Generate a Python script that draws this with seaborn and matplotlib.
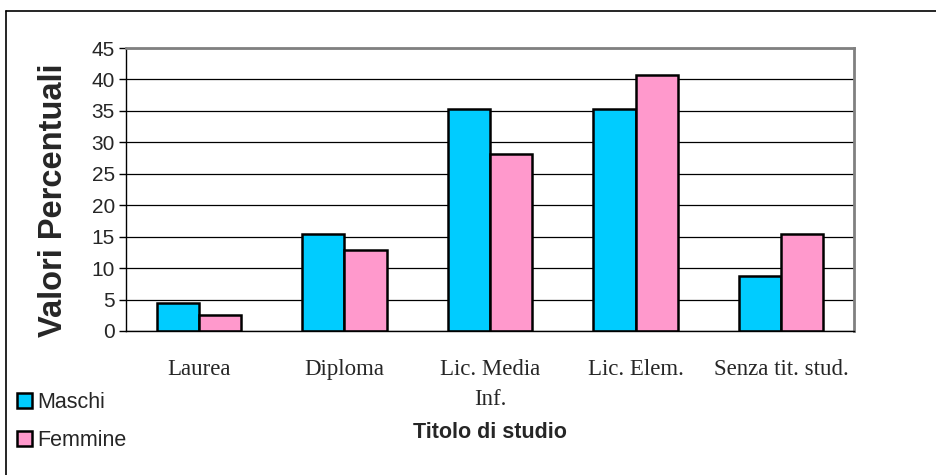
import matplotlib
matplotlib.use("Agg")
import matplotlib.pyplot as plt
from matplotlib.lines import Line2D
import numpy as np
import pandas as pd
import seaborn as sns

# Data
categories = ["Laurea", "Diploma", "Lic. Media\nInf.", "Lic. Elem.", "Senza tit. stud."]
maschi = [4.5, 15.5, 35.3, 35.3, 8.7]
femmine = [2.5, 12.9, 28.1, 40.7, 15.4]
series_names = ["Maschi", "Femmine"]
y_ticks = [0, 5, 10, 15, 20, 25, 30, 35, 40, 45]

df = pd.DataFrame({
    "Titolo": categories * 2,
    "Valore": maschi + femmine,
    "Sesso": [series_names[0]] * len(categories) + [series_names[1]] * len(categories),
})

sns.set_style("white")
plt.rcParams["font.family"] = ["Liberation Sans", "DejaVu Sans"]

fig = plt.figure(figsize=(9.36, 4.75), dpi=100)
W, H = 936, 475
ax = fig.add_axes([126 / W, 1 - 331 / H, (854 - 126) / W, (331 - 48) / H])

sns.barplot(
    data=df, x="Titolo", y="Valore", hue="Sesso",
    palette=["#00CCFF", "#FF99CC"], width=0.58, gap=0,
    edgecolor="black", linewidth=1.8, saturation=1, ax=ax,
)

handles, labels = ax.get_legend_handles_labels()
if ax.get_legend() is not None:
    ax.get_legend().remove()

ax.set_xlim(-0.5, len(categories) - 0.5)
ax.set_ylim(0, 45)
ax.set_yticks(y_ticks)
ax.set_yticklabels([str(v) for v in y_ticks], fontsize=15, family="Liberation Sans")

# horizontal gridlines behind the bars
ax.set_axisbelow(True)
ax.yaxis.grid(True, color="black", linewidth=0.9)
ax.xaxis.grid(False)

# category labels centred, tick marks on the category boundaries
ax.set_xticks(range(len(categories)))
ax.set_xticklabels(categories, fontsize=16.5, family="Liberation Serif", linespacing=1.55)
ax.set_xticks(np.arange(-0.5, len(categories)), minor=True)
ax.tick_params(axis="x", which="major", length=0, pad=20)
ax.tick_params(axis="x", which="minor", length=6, width=1, color="black", direction="out")
ax.tick_params(axis="y", which="major", length=5, width=1, color="black", direction="out", pad=3, left=True)

for side in ("left", "bottom"):
    ax.spines[side].set_color("black")
    ax.spines[side].set_linewidth(1.0)
for side in ("top", "right"):
    ax.spines[side].set_color("#808080")
    ax.spines[side].set_linewidth(2.0)

ax.set_ylabel("Valori Percentuali", fontsize=23.5, fontweight="heavy")
ax.yaxis.set_label_coords(-0.1, 0.463)
ax.yaxis.label.set_va("center")

ax.set_xlabel("Titolo di studio", fontsize=15.5, fontweight="bold")
ax.xaxis.set_label_coords(0.5, -0.323)
ax.xaxis.label.set_va("top")

fig.legend(
    handles, labels, loc="upper left", bbox_to_anchor=(17 / W, 1 - 392 / H),
    frameon=False, fontsize=15.5, handlelength=0.7, handleheight=0.7,
    handletextpad=0.23, labelspacing=0.78, borderaxespad=0, borderpad=0,
)

# outer chart frame
fig.add_artist(Line2D([6 / W, 6 / W], [0, 1 - 11 / H], color="black", linewidth=1.2,
                      transform=fig.transFigure))
fig.add_artist(Line2D([6 / W, 1], [1 - 11 / H, 1 - 11 / H], color="black", linewidth=1.2,
                      transform=fig.transFigure))

fig.savefig("out.png", dpi=100, facecolor="white")
